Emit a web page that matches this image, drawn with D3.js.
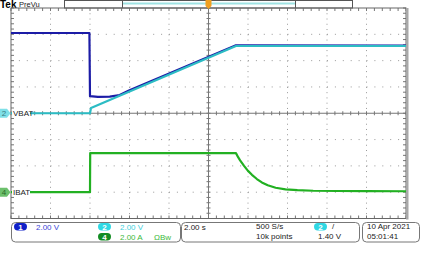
<!DOCTYPE html>
<html>
<head>
<meta charset="utf-8">
<script src="https://cdn.jsdelivr.net/npm/d3@7"></script>
<style>
  body { margin: 0; background: #fff; }
  svg { display: block; font-family: "Liberation Sans", Arial, sans-serif; }
</style>
</head>
<body>
<svg id="scope" width="422" height="253"></svg>
<script>
// time axis: 2.00 s/div, 10 divisions, trigger in the middle
const timeRange = [-10, 10];
const divRange = [-4, 4];

// channel settings (volts or amps per div, offset in div)
const ch1Scale = 2, ch1Offset = 0;
const ch2Scale = 2, ch2Offset = 0;
const ch4Scale = 2, ch4Offset = -3;

// CH1 (input voltage)
const ch1Time = [-10, -6.03, -6.0, -5.6, -5.0, -4.5, -4.0, 1.39, 10];
const ch1Vals = [6.1, 6.1, 1.3, 1.24, 1.27, 1.38, 1.74, 5.17, 5.15];

// CH2 VBAT
const ch2Time = [-10, -6.0, -5.95, 1.39, 10];
const ch2Vals = [0, 0, 0.4, 5.11, 5.11];

// CH4 IBAT
const ch4Time = [-10, -6.0, -5.99, 1.39, 1.5, 1.6, 1.8, 2.0, 2.2, 2.45, 2.7, 3.0, 3.4, 3.9, 4.5, 5.3, 6.5, 8, 10];
const ch4Vals = [0, 0, 2.97, 2.97, 2.66, 2.42, 2.0, 1.62, 1.32, 1.0, 0.74, 0.53, 0.34, 0.22, 0.15, 0.11, 0.09, 0.08, 0.07];

const svg = d3.select("#scope");
const L = 11, R = 406, T = 8, B = 218.5;

const x = d3.scaleLinear().domain(timeRange).range([L, R]);
const y = d3.scaleLinear().domain(divRange).range([B, T]);

// record view bar at the top
svg.append("text").attr("x", 0).attr("y", 8).attr("font-size", 10)
  .attr("font-weight", "bold").attr("fill", "#000").text("Tek");
svg.append("text").attr("x", 19).attr("y", 7).attr("font-size", 7.5)
  .attr("fill", "#222").text("PreVu");
svg.append("rect").attr("x", 64.5).attr("y", 0.5).attr("width", 288).attr("height", 7.5)
  .attr("fill", "#fff").attr("stroke", "#555");
svg.append("line").attr("x1", 122).attr("x2", 295).attr("y1", 3.5).attr("y2", 3.5)
  .attr("stroke", "#9fe3e3").attr("stroke-width", 2);
[122.5, 295.5].forEach(px => {
  svg.append("line").attr("x1", px).attr("x2", px).attr("y1", 0.5).attr("y2", 8)
    .attr("stroke", "#555");
});

// grid
const g = svg.append("g");
const xMinor = d3.range(-10, 10.01, 0.4);
const yMinor = d3.range(-4, 4.01, 0.2);

// dotted division lines
d3.range(-8, 9, 2).filter(t => t !== 0).forEach(t => {
  g.append("line").attr("x1", x(t)).attr("x2", x(t)).attr("y1", T).attr("y2", B)
    .attr("stroke", "#999").attr("stroke-dasharray", "1,4.26");
});
d3.range(-3, 4, 1).filter(d => d !== 0).forEach(d => {
  g.append("line").attr("x1", L).attr("x2", R).attr("y1", y(d)).attr("y2", y(d))
    .attr("stroke", "#999").attr("stroke-dasharray", "1,6.9");
});

// center cross
g.append("line").attr("x1", L).attr("x2", R).attr("y1", y(0)).attr("y2", y(0))
  .attr("stroke", "#777");
g.append("line").attr("x1", x(0)).attr("x2", x(0)).attr("y1", T).attr("y2", B)
  .attr("stroke", "#777");
xMinor.forEach(t => {
  g.append("line").attr("x1", x(t)).attr("x2", x(t)).attr("y1", y(0) - 2).attr("y2", y(0) + 2)
    .attr("stroke", "#777");
  g.append("line").attr("x1", x(t)).attr("x2", x(t)).attr("y1", T).attr("y2", T + 3)
    .attr("stroke", "#777");
  g.append("line").attr("x1", x(t)).attr("x2", x(t)).attr("y1", B - 3).attr("y2", B)
    .attr("stroke", "#777");
});
yMinor.forEach(d => {
  g.append("line").attr("x1", x(0) - 2).attr("x2", x(0) + 2).attr("y1", y(d)).attr("y2", y(d))
    .attr("stroke", "#777");
  g.append("line").attr("x1", L).attr("x2", L + 3).attr("y1", y(d)).attr("y2", y(d))
    .attr("stroke", "#777");
  g.append("line").attr("x1", R - 3).attr("x2", R).attr("y1", y(d)).attr("y2", y(d))
    .attr("stroke", "#777");
});
g.append("rect").attr("x", L).attr("y", T).attr("width", R - L).attr("height", B - T)
  .attr("fill", "none").attr("stroke", "#666");
g.append("rect").attr("x", R).attr("y", T).attr("width", 2.5).attr("height", B - T + 1)
  .attr("fill", "#a8a8a8");

// traces
function trace(times, vals, scale, offset, color) {
  const pts = times.map((t, i) => [t, vals[i]]);
  const line = d3.line()
    .x(p => x(p[0]))
    .y(p => y(p[1] / scale + offset));
  svg.append("path").datum(pts).attr("d", line)
    .attr("fill", "none").attr("stroke", color).attr("stroke-width", 2.2)
    .attr("stroke-linejoin", "round");
}
trace(ch4Time, ch4Vals, ch4Scale, ch4Offset, "#22b022");
trace(ch1Time, ch1Vals, ch1Scale, ch1Offset, "#1c1ca6");
trace(ch2Time, ch2Vals, ch2Scale, ch2Offset, "#2cbcc4");

// trigger position marker
svg.append("path")
  .attr("d", `M${x(0) - 3},0 h6 v6 l-3,3 l-3,-3 Z`)
  .attr("fill", "#f0a020");

// channel ground markers + labels
function marker(d, num, bg, fg, label) {
  const yy = y(d);
  svg.append("path")
    .attr("d", `M0,${yy - 4.5} h7 l3.5,4.5 l-3.5,4.5 h-7 Z`)
    .attr("fill", bg);
  svg.append("text").attr("x", 4).attr("y", yy + 3).attr("font-size", 8)
    .attr("text-anchor", "middle").attr("fill", fg).text(num);
  svg.append("rect").attr("x", L + 1).attr("y", yy - 4).attr("width", 18).attr("height", 8)
    .attr("fill", "#fff");
  svg.append("text").attr("x", L + 2).attr("y", yy + 3).attr("font-size", 8)
    .attr("fill", "#222").text(label);
}
marker(ch2Offset, "2", "#7fe0e8", "#3a7a80", "VBAT");
marker(ch4Offset, "4", "#6cc06c", "#2a6a2a", "IBAT");

// readout boxes
const boxes = [[11.5, 169], [181.5, 178], [362.5, 57]];
boxes.forEach(b => {
  svg.append("rect").attr("x", b[0]).attr("y", 222.5).attr("width", b[1]).attr("height", 19.5)
    .attr("rx", 4).attr("fill", "#fff").attr("stroke", "#777");
});

function badge(cx, cy, num, bg, fg) {
  svg.append("rect").attr("x", cx - 6.5).attr("y", cy - 3.5).attr("width", 13).attr("height", 7.5)
    .attr("rx", 3.7).attr("fill", bg);
  svg.append("text").attr("x", cx).attr("y", cy + 3).attr("font-size", 8)
    .attr("text-anchor", "middle").attr("font-weight", "bold").attr("fill", fg).text(num);
}
function label(px, py, txt, color) {
  svg.append("text").attr("x", px).attr("y", py).attr("font-size", 8)
    .attr("fill", color).text(txt);
}
badge(20.5, 226.5, "1", "#1020c8", "#fff");
label(36, 229.5, "2.00 V", "#3a48d8");
badge(104.5, 226.5, "2", "#30d8e4", "#fff");
label(120, 229.5, "2.00 V", "#40d0dc");
badge(104.5, 236.5, "4", "#128c22", "#fff");
label(120, 239.5, "2.00 A", "#3cba3c");
label(154, 239.5, "ΩBw", "#3cba3c");

label(184, 230, "2.00 s", "#222");
label(256, 229, "500 S/s", "#222");
label(256, 239, "10k points", "#222");
badge(320.5, 226.5, "2", "#30d8e4", "#fff");
label(332, 229, "/", "#222");
label(318, 239, "1.40 V", "#222");
label(367, 229, "10 Apr  2021", "#222");
label(367, 239, "05:01:41", "#222");
</script>
</body>
</html>
